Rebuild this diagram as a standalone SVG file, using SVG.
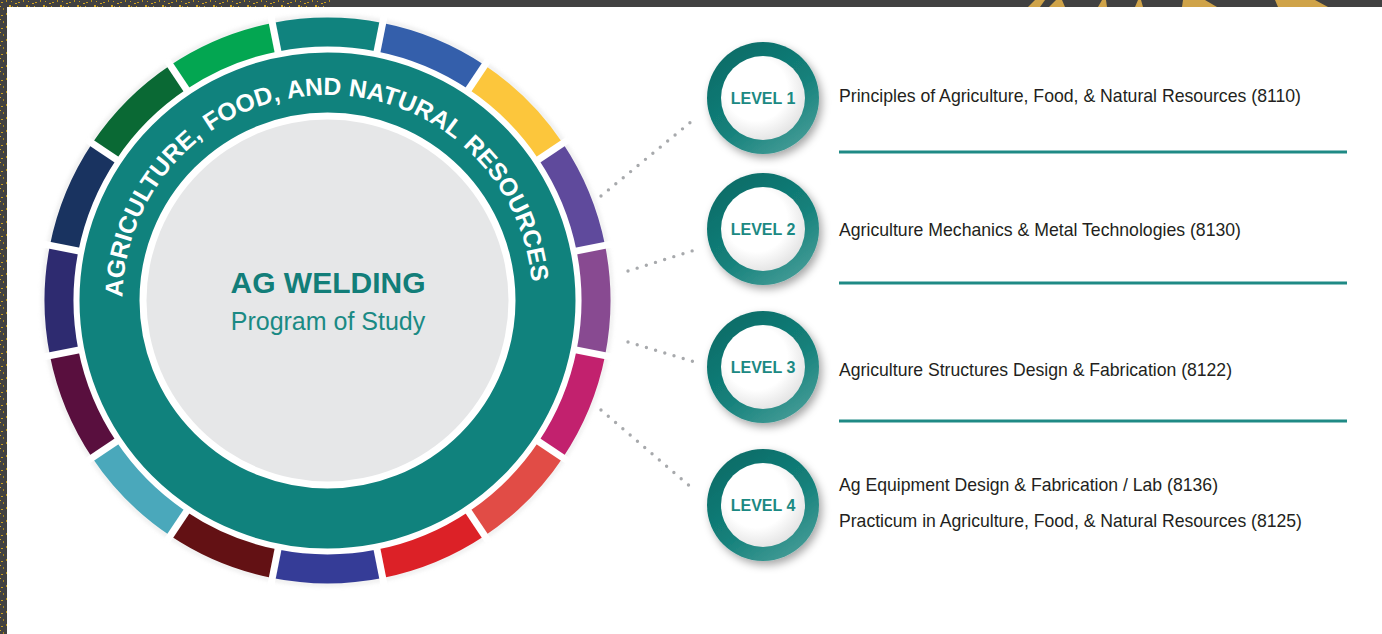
<svg xmlns="http://www.w3.org/2000/svg" width="1382" height="634" viewBox="0 0 1382 634">
<style>
.seg{stroke:none}
.gap{stroke:#fff;stroke-width:7}
.arc{font-family:"Liberation Sans",Arial,sans-serif;font-weight:bold;font-size:24.75px;fill:#ffffff}
.lvl{font-family:"Liberation Sans",Arial,sans-serif;font-weight:bold;font-size:16px;fill:#1b8983;text-anchor:middle}
.desc{font-family:"Liberation Sans",Arial,sans-serif;font-size:18.5px;fill:#231f20}
.rule{stroke:#1f8a85;stroke-width:3}
.dots{stroke:#a7a9ac;stroke-width:3.4;stroke-linecap:round;stroke-dasharray:0 9.6;fill:none}
.gold{fill:#cfa349}
</style>
<defs>
<pattern id="sp" width="17" height="13" patternUnits="userSpaceOnUse">
<rect x="1" y="2" width="2" height="1" fill="#c79d1e"/>
<rect x="6" y="0" width="1" height="2" fill="#b8921b"/>
<rect x="9" y="5" width="2" height="2" fill="#d4a520"/>
<rect x="13" y="9" width="1" height="1" fill="#c79d1e"/>
<rect x="3" y="8" width="1" height="2" fill="#a8861a"/>
<rect x="15" y="3" width="2" height="1" fill="#d4a520"/>
<rect x="7" y="11" width="2" height="1" fill="#b8921b"/>
<rect x="11" y="1" width="1" height="1" fill="#c79d1e"/>
<rect x="0" y="6" width="1" height="1" fill="#d4a520"/>
<rect x="12" y="6" width="1" height="1" fill="#b8921b"/>
</pattern>
<linearGradient id="ringG" x1="0.15" y1="0" x2="0.85" y2="1">
<stop offset="0" stop-color="#0b6a66"/>
<stop offset="0.55" stop-color="#13807a"/>
<stop offset="1" stop-color="#4a9f9a"/>
</linearGradient>
<radialGradient id="innerG" cx="0.42" cy="0.4" r="0.62">
<stop offset="0.6" stop-color="#ffffff"/>
<stop offset="1" stop-color="#e4e4e4"/>
</radialGradient>
<filter id="sh" x="-30%" y="-30%" width="160%" height="160%">
<feDropShadow dx="3" dy="4" stdDeviation="4" flood-color="#000" flood-opacity="0.35"/>
</filter>
<filter id="glow" x="-10%" y="-10%" width="120%" height="120%">
<feGaussianBlur stdDeviation="2"/>
</filter>
<path id="arcText" d="M122.5,297.1 A205,205 0 0 1 531.7,282.1"/>
</defs>

<g id="frame">
<rect width="1382" height="634" fill="#ffffff"/>
<rect x="0" y="0" width="1382" height="7" fill="#414141"/>
<rect x="0" y="0" width="7" height="634" fill="#414141"/>
<rect x="0" y="0" width="330" height="7" fill="url(#sp)"/>
<rect x="0" y="0" width="7" height="634" fill="url(#sp)"/>
<polygon class="gold" points="1028,7 1035,0 1045,0 1040,7"/>
<polygon class="gold" points="1049,7 1056,0 1062,0 1065,7"/>
<polygon class="gold" points="1098,7 1102,0 1106,0 1107,7"/>
<polygon class="gold" points="1135,7 1138,0 1141,0 1143,7"/>
<polygon class="gold" points="1182,7 1183,0 1205,0 1217,7"/>
<polygon class="gold" points="1278,7 1275,0 1315,0 1328,7"/>
</g>

<g id="hub">
<circle cx="327.5" cy="300.5" r="284" fill="none" stroke="#d6d6d6" stroke-width="3" opacity="0.6" filter="url(#glow)"/>
<g id="segments">
<path class="seg" fill="#10837e" d="M272.29,22.94 A283,283 0 0 1 382.71,22.94 L377.05,51.38 A254,254 0 0 0 277.95,51.38 Z"/>
<path class="seg" fill="#345fab" d="M382.71,22.94 A283,283 0 0 1 484.73,65.19 L468.61,89.31 A254,254 0 0 0 377.05,51.38 Z"/>
<path class="seg" fill="#fcc63c" d="M484.73,65.19 A283,283 0 0 1 562.81,143.27 L538.69,159.39 A254,254 0 0 0 468.61,89.31 Z"/>
<path class="seg" fill="#5f4a9c" d="M562.81,143.27 A283,283 0 0 1 605.06,245.29 L576.62,250.95 A254,254 0 0 0 538.69,159.39 Z"/>
<path class="seg" fill="#884a91" d="M605.06,245.29 A283,283 0 0 1 605.06,355.71 L576.62,350.05 A254,254 0 0 0 576.62,250.95 Z"/>
<path class="seg" fill="#c2216e" d="M605.06,355.71 A283,283 0 0 1 562.81,457.73 L538.69,441.61 A254,254 0 0 0 576.62,350.05 Z"/>
<path class="seg" fill="#e14c46" d="M562.81,457.73 A283,283 0 0 1 484.73,535.81 L468.61,511.69 A254,254 0 0 0 538.69,441.61 Z"/>
<path class="seg" fill="#dc2127" d="M484.73,535.81 A283,283 0 0 1 382.71,578.06 L377.05,549.62 A254,254 0 0 0 468.61,511.69 Z"/>
<path class="seg" fill="#353c97" d="M382.71,578.06 A283,283 0 0 1 272.29,578.06 L277.95,549.62 A254,254 0 0 0 377.05,549.62 Z"/>
<path class="seg" fill="#631114" d="M272.29,578.06 A283,283 0 0 1 170.27,535.81 L186.39,511.69 A254,254 0 0 0 277.95,549.62 Z"/>
<path class="seg" fill="#4aa8bb" d="M170.27,535.81 A283,283 0 0 1 92.19,457.73 L116.31,441.61 A254,254 0 0 0 186.39,511.69 Z"/>
<path class="seg" fill="#590f3e" d="M92.19,457.73 A283,283 0 0 1 49.94,355.71 L78.38,350.05 A254,254 0 0 0 116.31,441.61 Z"/>
<path class="seg" fill="#2e2b70" d="M49.94,355.71 A283,283 0 0 1 49.94,245.29 L78.38,250.95 A254,254 0 0 0 78.38,350.05 Z"/>
<path class="seg" fill="#193360" d="M49.94,245.29 A283,283 0 0 1 92.19,143.27 L116.31,159.39 A254,254 0 0 0 78.38,250.95 Z"/>
<path class="seg" fill="#0a6934" d="M92.19,143.27 A283,283 0 0 1 170.27,65.19 L186.39,89.31 A254,254 0 0 0 116.31,159.39 Z"/>
<path class="seg" fill="#03a651" d="M170.27,65.19 A283,283 0 0 1 272.29,22.94 L277.95,51.38 A254,254 0 0 0 186.39,89.31 Z"/>
</g>
<g id="segment-gaps">
<line class="gap" x1="327.5" y1="10" x2="327.5" y2="50" transform="rotate(11.25 327.5 300.5)"/>
<line class="gap" x1="327.5" y1="10" x2="327.5" y2="50" transform="rotate(33.75 327.5 300.5)"/>
<line class="gap" x1="327.5" y1="10" x2="327.5" y2="50" transform="rotate(56.25 327.5 300.5)"/>
<line class="gap" x1="327.5" y1="10" x2="327.5" y2="50" transform="rotate(78.75 327.5 300.5)"/>
<line class="gap" x1="327.5" y1="10" x2="327.5" y2="50" transform="rotate(101.25 327.5 300.5)"/>
<line class="gap" x1="327.5" y1="10" x2="327.5" y2="50" transform="rotate(123.75 327.5 300.5)"/>
<line class="gap" x1="327.5" y1="10" x2="327.5" y2="50" transform="rotate(146.25 327.5 300.5)"/>
<line class="gap" x1="327.5" y1="10" x2="327.5" y2="50" transform="rotate(168.75 327.5 300.5)"/>
<line class="gap" x1="327.5" y1="10" x2="327.5" y2="50" transform="rotate(191.25 327.5 300.5)"/>
<line class="gap" x1="327.5" y1="10" x2="327.5" y2="50" transform="rotate(213.75 327.5 300.5)"/>
<line class="gap" x1="327.5" y1="10" x2="327.5" y2="50" transform="rotate(236.25 327.5 300.5)"/>
<line class="gap" x1="327.5" y1="10" x2="327.5" y2="50" transform="rotate(258.75 327.5 300.5)"/>
<line class="gap" x1="327.5" y1="10" x2="327.5" y2="50" transform="rotate(281.25 327.5 300.5)"/>
<line class="gap" x1="327.5" y1="10" x2="327.5" y2="50" transform="rotate(303.75 327.5 300.5)"/>
<line class="gap" x1="327.5" y1="10" x2="327.5" y2="50" transform="rotate(326.25 327.5 300.5)"/>
<line class="gap" x1="327.5" y1="10" x2="327.5" y2="50" transform="rotate(348.75 327.5 300.5)"/>
</g>
<circle cx="327.5" cy="300.5" r="218" fill="none" stroke="#10827d" stroke-width="60"/>
<circle cx="327.5" cy="300.5" r="181" fill="#e6e7e8"/>
<g id="arc-title">
<text class="arc"><textPath href="#arcText" startOffset="0">AGRICULTURE,</textPath></text>
<text class="arc"><textPath href="#arcText" startOffset="193.9">FOOD,</textPath></text>
<text class="arc"><textPath href="#arcText" startOffset="279.1">AND</textPath></text>
<text class="arc"><textPath href="#arcText" startOffset="339.6">NATURAL</textPath></text>
<text class="arc"><textPath href="#arcText" startOffset="466.1">RESOURCES</textPath></text>
</g>
<text x="328" y="293" font-family="'Liberation Sans',Arial,sans-serif" font-weight="bold" font-size="30" fill="#127e79" text-anchor="middle">AG WELDING</text>
<text x="328" y="330" font-family="'Liberation Sans',Arial,sans-serif" font-size="25" fill="#1a8a84" text-anchor="middle">Program of Study</text>
</g>

<g id="connectors">
<line class="dots" x1="601" y1="196" x2="692" y2="121"/>
<line class="dots" x1="628" y1="271" x2="695" y2="250"/>
<line class="dots" x1="628" y1="342" x2="695" y2="362"/>
<line class="dots" x1="601" y1="410" x2="692" y2="488"/>
</g>

<g id="level1">
<circle cx="763" cy="98" r="56" fill="url(#ringG)" filter="url(#sh)"/>
<circle cx="763" cy="98" r="42" fill="url(#innerG)"/>
<text class="lvl" x="763" y="103.5">LEVEL 1</text>
<text class="desc" x="839" y="102" textLength="462" lengthAdjust="spacingAndGlyphs">Principles of Agriculture, Food, &amp; Natural Resources (8110)</text>
<line class="rule" x1="839" y1="152" x2="1347" y2="152"/>
</g>
<g id="level2">
<circle cx="763" cy="229" r="56" fill="url(#ringG)" filter="url(#sh)"/>
<circle cx="763" cy="229" r="42" fill="url(#innerG)"/>
<text class="lvl" x="763" y="234.5">LEVEL 2</text>
<text class="desc" x="839" y="236" textLength="402" lengthAdjust="spacingAndGlyphs">Agriculture Mechanics &amp; Metal Technologies (8130)</text>
<line class="rule" x1="839" y1="283" x2="1347" y2="283"/>
</g>
<g id="level3">
<circle cx="763" cy="367" r="56" fill="url(#ringG)" filter="url(#sh)"/>
<circle cx="763" cy="367" r="42" fill="url(#innerG)"/>
<text class="lvl" x="763" y="372.5">LEVEL 3</text>
<text class="desc" x="839" y="376" textLength="393" lengthAdjust="spacingAndGlyphs">Agriculture Structures Design &amp; Fabrication (8122)</text>
<line class="rule" x1="839" y1="421" x2="1347" y2="421"/>
</g>
<g id="level4">
<circle cx="763" cy="505" r="56" fill="url(#ringG)" filter="url(#sh)"/>
<circle cx="763" cy="505" r="42" fill="url(#innerG)"/>
<text class="lvl" x="763" y="510.5">LEVEL 4</text>
<text class="desc" x="839" y="491" textLength="379" lengthAdjust="spacingAndGlyphs">Ag Equipment Design &amp; Fabrication / Lab (8136)</text>
<text class="desc" x="839" y="527" textLength="463" lengthAdjust="spacingAndGlyphs">Practicum in Agriculture, Food, &amp; Natural Resources (8125)</text>
</g>
</svg>
